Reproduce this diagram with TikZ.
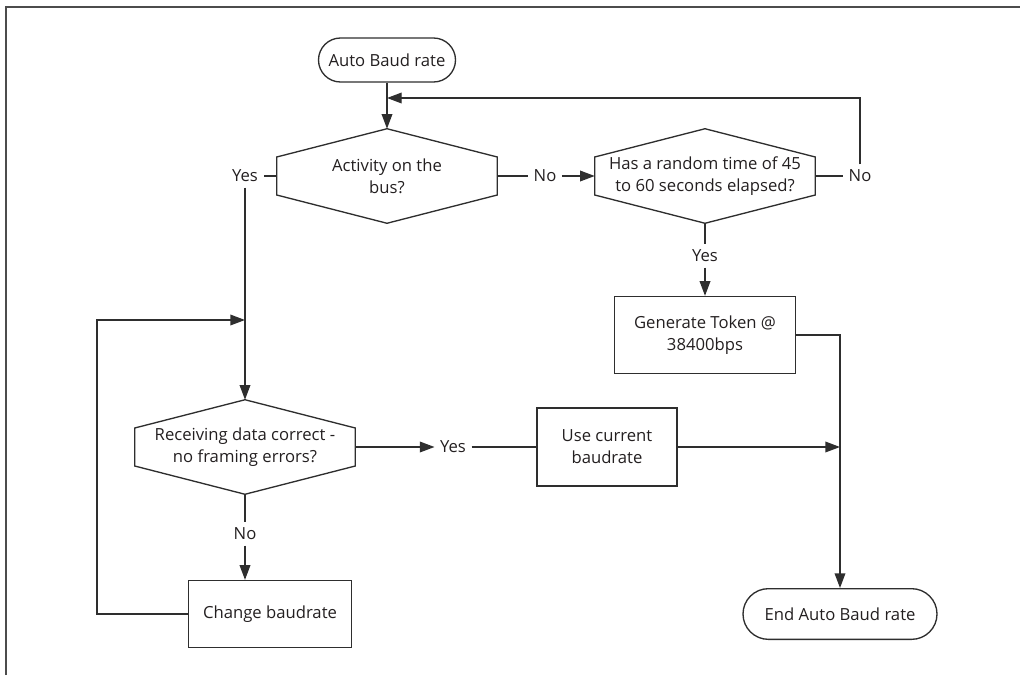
\documentclass[tikz,border=0pt]{standalone}
\usepackage{fontspec}
\setmainfont{Open Sans}
\usepackage{xcolor}
\usepackage{tikz}
\usetikzlibrary{arrows.meta, positioning, calc}

\definecolor{ink}{HTML}{231F20}
\definecolor{linec}{HTML}{2E2E2E}

\tikzset{
    line/.style={draw=linec, line width=1pt},
    arr/.style={line, -{Triangle[length=11pt, width=8pt]}},
    terminal/.style={draw=linec, line width=1pt, rectangle, rounded corners=#1, inner sep=0pt, text=ink},
    process/.style={draw=linec, line width=1pt, rectangle, inner sep=0pt, align=center, text=ink},
    decision/.style={rectangle, minimum width=165pt, minimum height=70.5pt, inner sep=0pt, align=center, text=ink,
        append after command={\pgfextra{\let\hexnode\tikzlastnode
            \draw[line] (\hexnode.north) -- ([yshift=14.25pt]\hexnode.east) -- ([yshift=-14.25pt]\hexnode.east)
                -- (\hexnode.south) -- ([yshift=-14.25pt]\hexnode.west) -- ([yshift=14.25pt]\hexnode.west) -- cycle;}}},
    lbl/.style={inner sep=4pt, text=ink}
}

\begin{document}
\begin{tikzpicture}[
    x=0.75pt, y=-0.75pt, font=\fontsize{12.5}{16.5}\selectfont
]
\useasboundingbox (0,0) rectangle (1020,675);

% frame
\draw[gray!60!black, line width=1.2pt] (6,675) -- (6,7) -- (1020,7);

% nodes
\node[terminal=16.5pt, minimum width=102.75pt, minimum height=33pt] (start) at (387,60) {Auto Baud rate};
\node[decision] (activity) at (387,176) {Activity on the\\bus?};
\node[decision] (timeout) at (705,176) {Has a random time of 45\\to 60 seconds elapsed?};
\node[process, minimum width=135.75pt, minimum height=57.75pt] (token) at (705,335) {Generate Token @\\38400bps};
\node[decision] (receive) at (245,447) {Receiving data correct -\\no framing errors?};
\node[process, minimum width=105pt, minimum height=58.5pt] (usecur) at (607,447) {Use current\\baudrate};
\node[process, minimum width=122.25pt, minimum height=50.25pt] (change) at (270,614) {Change baudrate};
\node[terminal=19pt, minimum width=145.5pt, minimum height=38pt] (finish) at (840,614) {End Auto Baud rate};

% labels
\node[lbl] (yesA) at (245,176) {Yes};
\node[lbl] (noA) at (545,176) {No};
\node[lbl] (noB) at (860,176) {No};
\node[lbl] (yesB) at (705,256) {Yes};
\node[lbl] (yesC) at (453,447) {Yes};
\node[lbl] (noC) at (245,534) {No};

\coordinate (topjoin) at (387,98);
\coordinate (loopjoin) at (245,320);
\coordinate (loopcorner) at (97,320);
\coordinate (endjoin) at (840,447);

% connectors
\draw[arr] (start) -- (activity);
\draw[line] (activity.west) -- (yesA);
\draw[arr] (yesA) -- (receive);
\draw[line] (activity.east) -- (noA);
\draw[arr] (noA) -- (timeout.west);
\draw[line] (timeout.east) -- (noB);
\draw[arr] (noB) |- (topjoin);
\draw[line] (timeout) -- (yesB);
\draw[arr] (yesB) -- (token);
\draw[arr] (token.east) -| (finish.north);
\draw[arr] (receive.east) -- (yesC);
\draw[line] (yesC) -- (usecur);
\draw[arr] (usecur.east) -- (endjoin);
\draw[line] (receive) -- (noC);
\draw[arr] (noC) -- (noC |- change.north);
\draw[arr] (change.west) -| (loopcorner) -- (loopjoin);

\end{tikzpicture}
\end{document}
